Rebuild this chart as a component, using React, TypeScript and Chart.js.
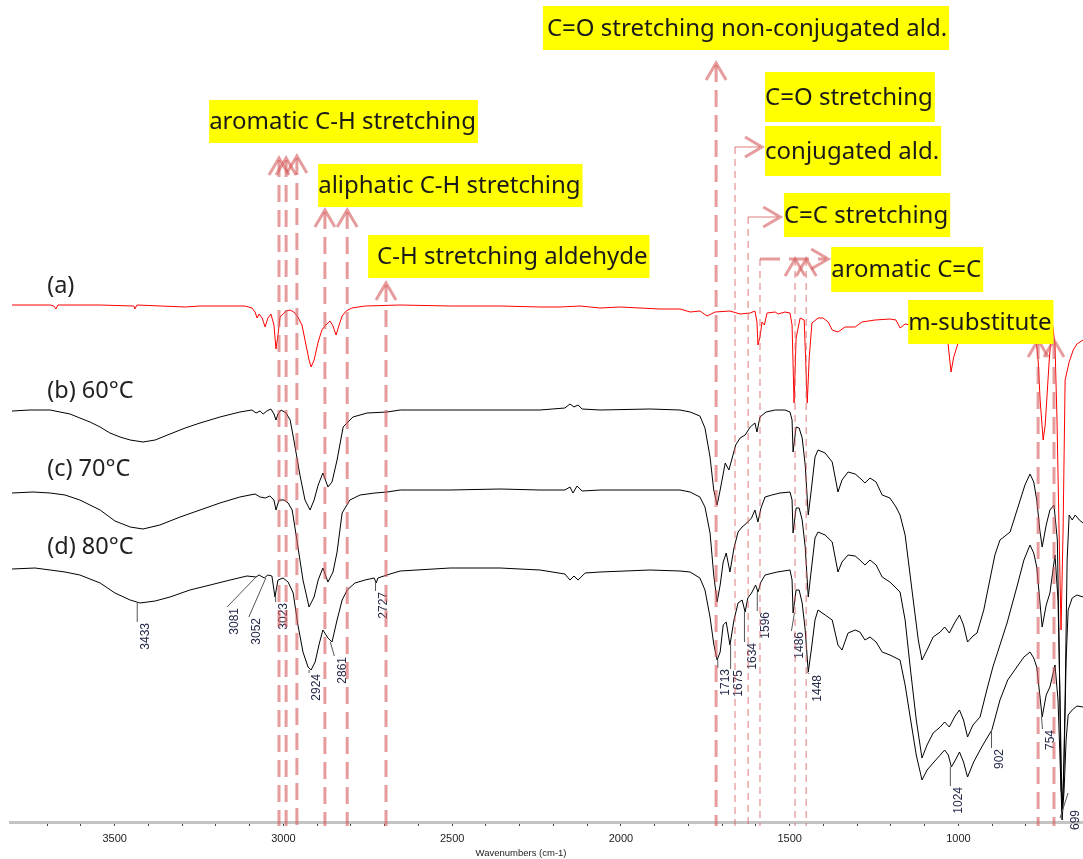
import React, { useEffect, useRef } from 'react';
import { Chart, registerables } from 'chart.js';

Chart.register(...registerables);

// ---- Spectrum (a) : red ----
const wnA = [3804,3691,3680,3674,3668,3543,3443,3440,3434,3291,3247,3114,3093,3084,3078,3072,3063,3054,3046,3037,3028,3022,3016,3010,3001,2992,2980,2969,2957,2945,2933,2924,2918,2909,2897,2886,2877,2862,2853,2844,2835,2826,2814,2797,2758,2654,2506,2358,2240,2180,2121,2062,2003,1943,1884,1825,1795,1766,1745,1721,1677,1647,1617,1603,1597,1594,1588,1582,1575,1567,1543,1534,1514,1499,1493,1487,1481,1469,1457,1448,1442,1434,1416,1401,1386,1374,1357,1336,1306,1286,1247,1203,1185,1173,1158,1143,1084,1040,1031,1022,1014,1001,980,936,877,817,773,764,758,749,743,731,722,714,708,702,696,690,684,672,660,649,631];
const valA = [517,517,516,513,517,517,516,513,517,515,516,516,514,510,504,508,504,495,504,508,497,473,487,505,508,511,512,510,505,497,477,462,455,462,480,492,496,501,496,487,497,506,511,514,516,517,516,516,515,515,516,514,515,514,513,513,510,511,506,510,511,508,509,511,500,477,485,500,497,509,510,508,510,509,497,419,484,504,502,419,465,499,504,504,500,492,490,495,495,500,502,503,502,494,498,497,497,492,479,450,465,479,492,496,497,497,494,462,422,382,397,462,500,477,402,292,192,292,442,460,472,478,482];

// ---- Spectrum (b) 60 °C ----
const wnB = [3804,3751,3691,3662,3632,3603,3573,3543,3514,3484,3454,3416,3380,3336,3291,3247,3188,3129,3093,3081,3069,3060,3049,3037,3028,3022,3016,3007,2992,2980,2969,2951,2936,2921,2909,2897,2883,2868,2856,2841,2823,2794,2752,2693,2654,2506,2358,2240,2166,2151,2139,2127,2115,2062,1914,1825,1795,1766,1751,1736,1725,1715,1706,1691,1680,1672,1660,1647,1632,1617,1603,1597,1588,1570,1543,1514,1499,1493,1490,1481,1472,1463,1454,1445,1436,1425,1416,1395,1374,1357,1345,1327,1306,1292,1277,1262,1244,1226,1203,1185,1173,1158,1134,1119,1108,1093,1075,1054,1041,1027,1010,997,985,973,957,945,925,907,892,877,847,817,803,788,777,768,759,752,740,729,717,707,702,696,690,684,678,672,663,654,642,631];
const valB = [411,412,412,410,408,404,400,395,389,385,382,380,382,388,394,399,405,410,412,409,411,408,411,413,408,402,408,412,409,402,382,347,322,312,322,337,349,335,340,362,395,405,409,410,412,412,412,412,414,418,415,417,413,412,413,412,410,406,394,365,332,317,332,359,352,362,377,384,387,395,399,390,405,410,412,412,410,402,370,395,394,384,357,307,332,365,372,369,360,330,342,350,348,344,339,344,340,327,324,315,307,287,222,182,162,172,185,190,195,189,200,207,197,180,186,189,212,242,267,282,290,322,337,348,340,322,292,275,297,312,317,282,182,32,22,122,262,307,302,307,302,299];

// ---- Spectrum (c) 70 °C ----
const wnC = [3804,3742,3691,3647,3603,3543,3499,3454,3416,3366,3306,3247,3188,3129,3084,3069,3054,3040,3028,3022,3013,2998,2986,2974,2960,2942,2924,2909,2897,2883,2868,2853,2841,2826,2803,2773,2729,2693,2654,2506,2358,2240,2166,2151,2142,2130,2115,2062,1914,1825,1795,1766,1751,1736,1725,1715,1706,1697,1688,1677,1665,1653,1641,1627,1613,1603,1594,1585,1573,1553,1529,1499,1493,1490,1481,1472,1463,1454,1445,1436,1425,1416,1395,1374,1357,1345,1327,1306,1292,1277,1262,1244,1226,1203,1173,1158,1143,1125,1108,1093,1075,1054,1041,1027,1010,997,985,973,957,936,916,898,877,856,827,806,788,777,768,752,740,729,714,705,699,693,687,681,675,663,649,631];
const valC = [329,330,329,327,322,312,301,295,293,297,305,312,319,325,328,325,324,326,322,312,322,322,319,312,282,242,215,225,242,254,240,250,270,309,322,327,329,330,332,332,333,332,332,335,329,336,331,332,332,332,330,325,315,289,247,220,237,260,269,250,274,290,295,299,304,312,300,314,325,327,329,330,322,289,314,314,302,275,225,252,284,290,287,280,250,260,267,266,262,257,262,257,245,240,230,202,155,102,64,77,89,95,100,95,106,112,102,85,97,105,132,155,177,199,235,262,277,269,255,195,217,229,267,222,122,10,62,162,212,224,227,225];

// ---- Spectrum (d) 80 °C ----
const wnD = [3804,3736,3691,3647,3603,3543,3499,3454,3425,3380,3336,3277,3217,3158,3108,3081,3072,3057,3046,3034,3025,3016,3001,2986,2971,2957,2942,2927,2918,2906,2894,2883,2868,2856,2841,2826,2811,2788,2758,2731,2725,2720,2684,2654,2506,2358,2240,2166,2151,2139,2127,2106,2062,1914,1825,1795,1766,1751,1736,1725,1715,1706,1697,1688,1677,1665,1653,1641,1632,1624,1613,1601,1594,1585,1573,1537,1499,1493,1490,1481,1472,1463,1454,1445,1436,1425,1416,1395,1374,1357,1345,1327,1306,1292,1277,1262,1244,1226,1203,1173,1158,1143,1125,1108,1093,1075,1054,1041,1030,1021,1009,997,985,973,955,936,919,901,889,877,854,827,806,788,777,768,752,740,729,714,705,699,693,687,681,675,663,649,631];
const valD = [253,254,252,250,247,239,229,222,219,221,225,232,237,242,246,245,247,244,247,246,225,242,244,240,229,197,170,155,152,160,178,192,184,180,202,222,232,239,242,244,239,244,248,251,254,254,252,248,242,246,242,249,250,252,251,250,244,232,205,178,162,170,197,200,177,202,219,222,210,224,229,237,230,240,247,250,252,242,209,232,232,219,192,150,172,202,212,207,202,177,172,189,192,190,182,185,180,170,167,162,137,105,67,42,52,59,67,72,67,55,62,70,60,45,60,72,82,92,107,122,142,155,165,170,164,155,105,127,135,157,122,62,2,32,82,107,112,116,115];

// ---- axis ----
const xMin = 631;
const xMax = 3810;
const majorTickStep = 500;
const minorTickStep = 100;
const xAxisTitle = 'Wavenumbers (cm-1)';

// ---- annotations (positions in wavenumber / a.u.) ----
const seriesLabels = [
  { text: '(a)', wn: 3700, y: 536 },
  { text: '(b) 60°C', wn: 3700, y: 431 },
  { text: '(c) 70°C', wn: 3700, y: 353 },
  { text: '(d) 80°C', wn: 3700, y: 275 },
];

const peakLabels = [
  { text: '3433', y: 219, len: 19, dx: 0 },
  { text: '3081', y: 245, len: 30, dx: -29 },
  { text: '3052', y: 244, len: 39, dx: -17 },
  { text: '3023', y: 225, len: 5, dx: 0 },
  { text: '2924', y: 152, len: 3, dx: 0 },
  { text: '2861', y: 180, len: 14, dx: 4 },
  { text: '2727', y: 239, len: 8, dx: 0 },
  { text: '1713', y: 162, len: 8, dx: 0 },
  { text: '1675', y: 177, len: 24, dx: 0 },
  { text: '1634', y: 210, len: 30, dx: 0 },
  { text: '1596', y: 230, len: 19, dx: 0 },
  { text: '1486', y: 209, len: 18, dx: -3 },
  { text: '1448', y: 150, len: 2, dx: 2 },
  { text: '1024', y: 55, len: 19, dx: 0 },
  { text: '902', y: 92, len: 18, dx: 0 },
  { text: '754', y: 105, len: 12, dx: 1 },
  { text: '699', y: 4, len: -25, dx: 8, tdy: -8 },
];

const guideLines = [
  { wn: 3013, top: 664, kind: 'thick' },
  { wn: 2992, top: 664, kind: 'thick' },
  { wn: 2960, top: 666, kind: 'thick' },
  { wn: 2877, top: 612, kind: 'thick' },
  { wn: 2811, top: 612, kind: 'thick' },
  { wn: 2696, top: 539, kind: 'thick' },
  { wn: 1718, top: 759, kind: 'thick' },
  { wn: 764, top: 482, kind: 'thick' },
  { wn: 717, top: 482, kind: 'thick' },
  { wn: 1662, top: 675, kind: 'thin', elbowTo: 1582 },
  { wn: 1623, top: 605, kind: 'thin', elbowTo: 1528 },
  { wn: 1588, top: 563, kind: 'thin', elbowTo: 1386, elbowThick: true },
  { wn: 1484, top: 563, kind: 'thin' },
  { wn: 1451, top: 563, kind: 'thin' },
];
const guideBottom = -4;

const annotationBoxes = [
  { text: 'aromatic C-H stretching', wn: 3220, top: 722, h: 43, padL: 0 },
  { text: 'aliphatic C-H stretching', wn: 2897, top: 658, h: 43, padL: 0 },
  { text: 'C-H stretching aldehyde', wn: 2749, top: 587, h: 43, padL: 9 },
  { text: 'C=O stretching non-conjugated ald.', wn: 2231, top: 816, h: 44, padL: 4 },
  { text: 'C=O stretching', wn: 1573, top: 750, h: 50, padL: 0 },
  { text: 'conjugated ald.', wn: 1573, top: 696, h: 50, padL: 0 },
  { text: 'C=C stretching', wn: 1517, top: 629, h: 44, padL: 0 },
  { text: 'aromatic C=C', wn: 1377, top: 575, h: 45, padL: 0 },
  { text: 'm-substitute', wn: 1149, top: 522, h: 44, padL: 0 },
];

const toPoints = (xs: number[], ys: number[]) => xs.map((x, i) => ({ x, y: ys[i] }));

const THICK = 'rgba(215, 95, 95, 0.62)';
const THIN = 'rgba(215, 95, 95, 0.55)';
const LABEL_FONT = '"Noto Sans", "Open Sans", sans-serif';

const annotationPlugin = {
  id: 'ftirAnnotations',
  afterDatasetsDraw(chart: any) {
    const { ctx } = chart;
    const xs = chart.scales.x;
    const ys = chart.scales.y;
    const px = (v: number) => xs.getPixelForValue(v);
    const py = (v: number) => ys.getPixelForValue(v);
    ctx.save();

    // peak labels
    ctx.font = '12px "Liberation Sans", Arial, sans-serif';
    for (const p of peakLabels) {
      const x1 = px(Number(p.text));
      const y1 = py(p.y);
      const x2 = x1 + p.dx;
      const y2 = y1 + p.len;
      ctx.strokeStyle = '#555';
      ctx.lineWidth = 1;
      ctx.setLineDash([]);
      ctx.beginPath();
      ctx.moveTo(x1, y1);
      ctx.lineTo(x2, y2);
      ctx.stroke();
      const tdy = (p as any).tdy ?? 1;
      ctx.save();
      ctx.translate(x2 + 8, Math.max(y1, y2) + tdy);
      ctx.rotate(-Math.PI / 2);
      ctx.fillStyle = '#252a4a';
      ctx.textAlign = 'right';
      ctx.textBaseline = 'middle';
      ctx.fillText(p.text, 0, 0);
      ctx.restore();
    }

    // guide lines
    const bottom = py(guideBottom);
    for (const g of guideLines) {
      const x = px(g.wn);
      const top = py(g.top);
      ctx.strokeStyle = g.kind === 'thick' ? THICK : THIN;
      ctx.lineWidth = g.kind === 'thick' ? 3 : 1.5;
      ctx.setLineDash(g.kind === 'thick' ? [17, 8] : [7, 5]);
      ctx.beginPath();
      ctx.moveTo(x, top + (g.kind === 'thick' ? 2 : 0));
      ctx.lineTo(x, bottom);
      ctx.stroke();
      ctx.setLineDash([]);
      ctx.lineWidth = 3;
      ctx.strokeStyle = THICK;
      if (g.elbowTo === undefined) {
        ctx.beginPath();
        ctx.moveTo(x - 10, top + 17);
        ctx.lineTo(x, top);
        ctx.lineTo(x + 10, top + 17);
        ctx.stroke();
      } else {
        const xe = px(g.elbowTo);
        if (g.elbowThick) {
          ctx.setLineDash([20, 9]);
          ctx.lineWidth = 3;
        } else {
          ctx.lineWidth = 1.5;
          ctx.strokeStyle = THIN;
        }
        ctx.beginPath();
        ctx.moveTo(x, top);
        ctx.lineTo(xe - 2, top);
        ctx.stroke();
        ctx.setLineDash([]);
        ctx.lineWidth = 3;
        ctx.strokeStyle = THICK;
        ctx.beginPath();
        ctx.moveTo(xe - 17, top - 10);
        ctx.lineTo(xe, top);
        ctx.lineTo(xe - 17, top + 10);
        ctx.stroke();
      }
    }

    // yellow boxes
    ctx.font = `24px ${LABEL_FONT}`;
    ctx.textBaseline = 'middle';
    ctx.textAlign = 'left';
    for (const b of annotationBoxes) {
      const x = px(b.wn);
      const y = py(b.top);
      const w = ctx.measureText(b.text).width + b.padL + 2;
      ctx.fillStyle = '#ffff00';
      ctx.fillRect(x, y, w, b.h);
      ctx.fillStyle = '#1a1a1a';
      ctx.fillText(b.text, x + b.padL, y + b.h / 2 + 1);
    }

    // series labels
    ctx.font = `23.5px ${LABEL_FONT}`;
    ctx.fillStyle = '#222';
    for (const s of seriesLabels) {
      ctx.fillText(s.text, px(s.wn), py(s.y));
    }

    // axis title
    ctx.font = '9.5px "Liberation Sans", Arial, sans-serif';
    ctx.fillStyle = '#222';
    ctx.textAlign = 'center';
    ctx.fillText(xAxisTitle, px(2296), py(-31));
    ctx.restore();
  },
};

export default function App() {
  const canvasRef = useRef<HTMLCanvasElement | null>(null);
  useEffect(() => {
    if (!canvasRef.current) return;
    const chart = new Chart(canvasRef.current, {
      type: 'scatter',
      data: {
        datasets: [
          { label: '(a)', data: toPoints(wnA, valA), showLine: true, borderColor: '#ff0000', borderWidth: 1, pointRadius: 0, tension: 0 },
          { label: '(b) 60°C', data: toPoints(wnB, valB), showLine: true, borderColor: '#000000', borderWidth: 1, pointRadius: 0, tension: 0 },
          { label: '(c) 70°C', data: toPoints(wnC, valC), showLine: true, borderColor: '#000000', borderWidth: 1, pointRadius: 0, tension: 0 },
          { label: '(d) 80°C', data: toPoints(wnD, valD), showLine: true, borderColor: '#000000', borderWidth: 1, pointRadius: 0, tension: 0 },
        ],
      },
      options: {
        animation: false,
        responsive: false,
        devicePixelRatio: 1,
        layout: { padding: { left: 10, right: 0, top: 0, bottom: 0 } },
        plugins: { legend: { display: false }, tooltip: { enabled: false } },
        scales: {
          x: {
            type: 'linear',
            reverse: true,
            min: xMin,
            max: xMax,
            afterBuildTicks: (s: any) => {
              s.ticks = s.ticks.filter((t: any) => t.value % minorTickStep === 0);
            },
            afterFit: (s: any) => {
              s.height = 37;
            },
            ticks: {
              stepSize: minorTickStep,
              autoSkip: false,
              maxRotation: 0,
              padding: 6,
              color: '#222',
              font: { family: '"Liberation Sans", Arial, sans-serif', size: 11 },
              callback: (v: any) => (Number(v) % majorTickStep === 0 ? String(v) : ''),
            },
            grid: { drawOnChartArea: false, drawTicks: true, tickLength: 4, color: '#444', lineWidth: 1 },
            border: { display: true, color: '#c4c4c4', width: 3 },
          },
          y: { display: false, min: 0, max: 822 },
        },
      },
      plugins: [annotationPlugin],
    } as any);
    return () => chart.destroy();
  }, []);
  return (
    <div style={{ position: 'absolute', left: 0, top: 0, width: 1083, height: 859, background: '#fff' }}>
      <canvas ref={canvasRef} width={1083} height={859} />
    </div>
  );
}
